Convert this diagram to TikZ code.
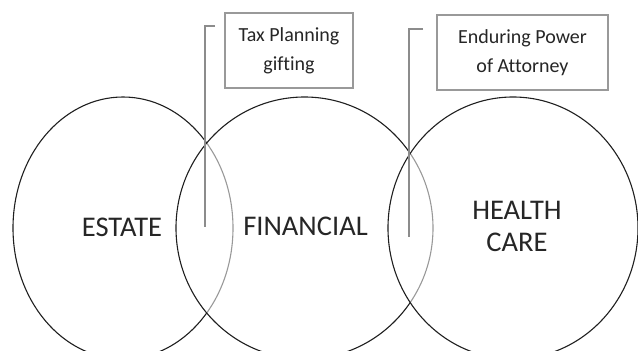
\documentclass[tikz,border=0pt]{standalone}
\usepackage{fontspec}
\setmainfont{Carlito}[Ligatures=NoCommon]
\usetikzlibrary{shapes.geometric}
\begin{document}
\begin{tikzpicture}[x=1pt,y=-1pt,
  area/.style={ellipse, draw=black!88, line width=1.1pt, fill=white,
    fill opacity=0.55, inner sep=0pt},
  arealabel/.style={text=black!85, align=center, inner sep=0pt,
    font=\fontsize{28.5}{32.5}\selectfont},
  notebox/.style={rectangle, draw=black!40, line width=1.4pt, fill=white,
    text=black!85, align=center, inner sep=0pt,
    font=\fontsize{20}{29}\selectfont},
  callout/.style={draw=black!45, line width=1.3pt}]
\useasboundingbox (0,0) rectangle (638,351);

% the three overlapping areas, each one veiling the edge of the one before
\node[area, minimum width=220pt, minimum height=262pt] (estate) at (123,228) {};
\node[area, minimum width=257pt, minimum height=262pt] (financial) at (304.5,228) {};
\node[area, minimum width=250pt, minimum height=262pt] (health) at (513,228) {};

\node[arealabel] (estatelabel) at (122,227) {ESTATE};
\node[arealabel] (financiallabel) at (305.5,226) {FINANCIAL};
\node[arealabel] (healthlabel) at (517,226.5) {HEALTH\\CARE};

% line callouts pointing into the overlaps
\coordinate (taxhook) at (215,26);
\coordinate (taxtip) at (205,227);
\coordinate (poahook) at (423,29);
\coordinate (poatip) at (409,237);
\draw[callout] (taxhook) -| (taxtip);
\draw[callout] (poahook) -| (poatip);

% callout texts
\node[notebox, minimum width=128pt, minimum height=75pt] (taxbox) at (289,50.5)
  {Tax Planning\\gifting};
\node[notebox, minimum width=171pt, minimum height=75pt] (poabox) at (522.5,52.5)
  {Enduring Power\\of Attorney};
\end{tikzpicture}
\end{document}
